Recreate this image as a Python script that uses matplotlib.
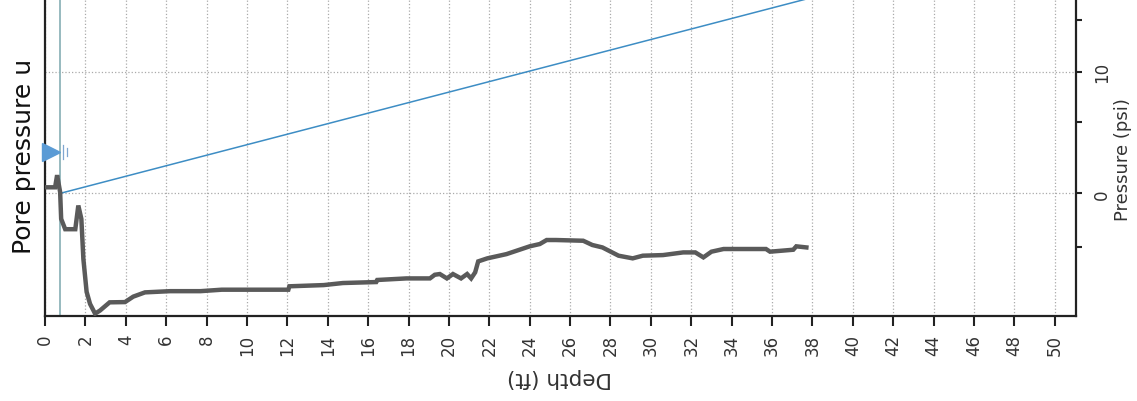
import numpy as np
import matplotlib
matplotlib.use('Agg')
import matplotlib.pyplot as plt

# pore pressure u2 trace (depth ft, pressure psi)
depth = [0.05, 0.5, 0.6, 0.75, 0.8, 1.0, 1.5, 1.65, 1.8, 1.9, 2.06, 2.23, 2.48,
         2.72, 3.2, 3.96, 4.37, 4.95, 6.2, 7.7, 8.75, 12.05, 12.1, 13.8, 14.75,
         16.4, 16.45, 17.9, 19.06, 19.3, 19.55, 19.9, 20.2, 20.6, 20.9, 21.1,
         21.3, 21.45, 21.9, 22.85, 24.0, 24.5, 24.84, 25.3, 26.65, 27.1, 27.6,
         28.4, 29.1, 29.6, 30.6, 31.6, 32.2, 32.6, 33.0, 33.6, 35.7, 35.9,
         37.05, 37.2, 37.7]
u2 = [0.5, 0.5, 1.5, 0.1, -2.1, -2.95, -2.95, -1.0, -2.1, -5.4, -8.1, -9.1, -9.9,
      -9.65, -8.97, -8.95, -8.5, -8.15, -8.05, -8.05, -7.93, -7.93, -7.65, -7.55,
      -7.38, -7.3, -7.13, -7.0, -7.0, -6.7, -6.64, -7.0, -6.64, -7.0, -6.64, -7.0,
      -6.5, -5.6, -5.35, -5.0, -4.36, -4.17, -3.84, -3.84, -3.9, -4.25, -4.45,
      -5.13, -5.35, -5.13, -5.08, -4.86, -4.86, -5.27, -4.8, -4.58, -4.58, -4.8,
      -4.64, -4.36, -4.45]

water_depth = 0.75        # ft
unit_weight_water = 0.433 # psi per ft
marker_pressure = 3.4

depth_ticks = np.arange(0, 51, 2)
pressure_ticks = [0, 10]
pressure_minor = [-4.4, 5.9, 14.3]

fig = plt.figure(figsize=(11.37, 4.02), dpi=100)
ax = fig.add_axes([45/1137, 1 - 316.7/402, (1076 - 45)/1137, 316.7/402])

ax.set_xlim(0, 51.05)
ax.set_ylim(-10.07, 16.0)

# hydrostatic line
d_h = np.array([water_depth, 51.05])
ax.plot(d_h, unit_weight_water * (d_h - water_depth), color='#3d8dc4', lw=1.1, zorder=3)
# groundwater level
ax.axvline(water_depth, color='#8fb4ba', lw=1.3, zorder=2)
ax.plot([0.28], [marker_pressure], marker='>', ms=13, color='#5b9bd5', mec='#5b9bd5',
        clip_on=False, zorder=5)
ax.plot([water_depth + 0.12] * 2, [marker_pressure - 0.6, marker_pressure + 0.6],
        color='#7fa6d0', lw=0.9, zorder=4)
ax.plot([water_depth + 0.32] * 2, [marker_pressure - 0.3, marker_pressure + 0.3],
        color='#7fa6d0', lw=0.9, zorder=4)

ax.plot(depth, u2, color='#5a5a5a', lw=3.2, solid_joinstyle='miter', zorder=4)

ax.set_xticks(depth_ticks)
ax.set_xticklabels([str(t) for t in depth_ticks], rotation=90, fontsize=12, color='#333333')
ax.yaxis.tick_right()
ax.set_yticks(pressure_ticks)
ax.set_yticks(pressure_minor, minor=True)
ax.set_yticklabels([str(t) for t in pressure_ticks], rotation=90, va='center',
                   fontsize=12, color='#333333')
ax.tick_params(axis='x', length=7, width=1.5, color='#222222', pad=6)
ax.tick_params(axis='y', which='both', length=4, width=1.5, color='#222222', pad=8)

ax.grid(True, which='major', color='#aaaaaa', ls=':', lw=0.9)
for s in ['left', 'bottom', 'right']:
    ax.spines[s].set_linewidth(1.6)
    ax.spines[s].set_color('#222222')
ax.spines['top'].set_visible(False)

fig.text(24/1137, 1 - 156/402, 'Pore pressure u', rotation=90, fontsize=18,
         ha='center', va='center', color='#111111')
fig.text(560/1137, 1 - 378/402, 'Depth (ft)', rotation=180, fontsize=15.5,
         ha='center', va='center', color='#333333')
fig.text(1123/1137, 1 - 160/402, 'Pressure (psi)', rotation=90, fontsize=13,
         ha='center', va='center', color='#333333')

fig.savefig('out.png', dpi=100)
